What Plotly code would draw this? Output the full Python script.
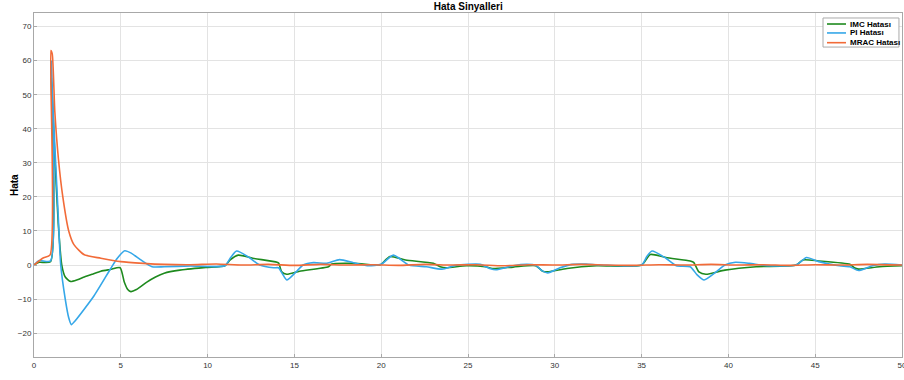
import plotly.graph_objects as go

# IMC Hatası (green)
t_imc = [0, 0.3, 0.95, 1.0, 1.05, 1.2, 1.4, 1.6, 1.8, 2.1, 2.5, 2.9, 3.4, 3.85, 4.4, 4.96, 5.2, 5.4, 5.58, 5.9, 6.5, 7.0, 7.5, 8.4, 9.9, 11.0, 11.3, 11.77, 12.6, 14.0, 14.1, 14.27, 14.56, 15.3, 16.96, 17.15, 18.4, 19.9, 20.0, 20.5, 21.4, 23.0, 23.4, 23.75, 24.9, 26.0, 26.4, 27.6, 28.9, 29.3, 29.6, 30.7, 32.4, 35.0, 35.5, 36.4, 37.8, 38.0, 38.3, 38.7, 39.8, 41.6, 43.9, 44.3, 45.2, 47.0, 47.25, 47.5, 48.7, 50]
y_imc = [0, 0.8, 1.0, 55, 50, 32, 12, 0, -3.5, -4.8, -4.3, -3.5, -2.6, -1.8, -1.3, -0.8, -5, -7.2, -7.8, -7.2, -5, -3.5, -2.4, -1.5, -0.7, -0.2, 1.5, 2.9, 2.0, 0.8, 0.5, -2, -2.7, -1.8, -0.5, 0.3, 0.5, 0, 0.2, 2.5, 1.5, 0.5, -0.5, -0.8, -0.2, -0.5, -1.0, -0.6, -0.2, -1.8, -2.0, -1.0, -0.2, 0, 3.1, 2.2, 1.2, 0.8, -2, -2.7, -1.5, -0.5, 0, 1.5, 1.2, 0.2, -0.8, -1.2, -0.5, -0.2]

# PI Hatası (blue)
t_pi = [0, 0.3, 0.95, 1.0, 1.05, 1.2, 1.4, 1.54, 1.8, 2.0, 2.15, 2.35, 3.46, 4.42, 4.8, 5.23, 5.6, 6.15, 6.8, 7.5, 9.0, 11.0, 11.3, 11.67, 12.4, 13.0, 13.8, 14.08, 14.3, 14.56, 15.1, 15.5, 16.1, 16.87, 17.6, 18.4, 19.2, 20.0, 20.7, 21.6, 22.6, 23.5, 24.3, 25.7, 26.25, 26.6, 27.6, 28.4, 28.9, 29.3, 29.6, 30.3, 31.0, 31.8, 32.6, 35.0, 35.3, 35.6, 36.4, 37.0, 37.8, 38.2, 38.6, 39.3, 39.8, 40.4, 41.2, 42.2, 43.9, 44.5, 45.2, 46.4, 47.0, 47.5, 48.3, 49.0, 50]
y_pi = [0, 1.3, 1.2, 60, 52, 35, 14, 0, -10, -15.5, -17.5, -16.5, -9, -1, 2, 4.2, 3.5, 1.5, -0.5, -0.5, -0.3, -0.2, 2.0, 4.1, 2.2, 0, -0.8, -0.8, -2.5, -4.4, -2, 0, 0.7, 0.5, 1.6, 0.7, -0.2, 0.2, 2.9, 0, -0.5, -1.2, -0.1, 0.2, -1.0, -1.4, -0.2, 0.2, -0.1, -1.8, -2.3, -0.8, 0.2, 0.3, 0, 0, 2.5, 4.1, 2.0, -0.2, -0.5, -2.9, -4.4, -2.0, 0, 0.8, 0.5, -0.2, 0, 2.2, 1.0, -0.2, -0.5, -1.6, -0.2, 0.3, 0]

# MRAC Hatası (orange)
t_mrac = [0, 0.5, 0.93, 0.97, 1.05, 1.2, 1.41, 1.66, 2.0, 2.3, 2.9, 3.85, 5.0, 6.3, 7.5, 9, 10.5, 12, 13.5, 15, 16.5, 18, 19.5, 21, 22.5, 24, 25.5, 27, 28.5, 30, 31.5, 33, 34.5, 36, 37.5, 39, 40.5, 42, 43.5, 45, 46.5, 48, 50]
y_mrac = [0, 2, 3, 63, 62, 45, 31, 20, 10, 6, 3, 2, 1, 0.5, 0.2, 0.1, 0.3, 0, 0.2, -0.1, 0.2, 0, 0.1, -0.1, 0.2, 0, 0.1, -0.2, 0.1, 0, 0.2, 0, -0.1, 0.1, 0, 0.2, 0, 0.1, -0.1, 0.1, 0, 0.2, 0]

series_names = ["IMC Hatası", "PI Hatası", "MRAC Hatası"]
series_colors = ["#1E8A1E", "#35A7E8", "#F26B38"]

x_ticks = [0, 5, 10, 15, 20, 25, 30, 35, 40, 45, 50]
y_ticks = [-20, -10, 0, 10, 20, 30, 40, 50, 60, 70]

FONT = "Liberation Sans, Arial, sans-serif"

fig = go.Figure()
for tx, ty, nm, col in zip([t_imc, t_pi, t_mrac], [y_imc, y_pi, y_mrac], series_names, series_colors):
    fig.add_trace(go.Scatter(x=tx, y=ty, mode="lines", name=nm, showlegend=False,
                             line=dict(color=col, width=1.6, shape="spline", smoothing=0.6)))

axis_common = dict(showgrid=True, gridcolor="#E3E3E3", gridwidth=1,
                   showline=True, linecolor="#A8A8A8", linewidth=1, mirror=True,
                   zeroline=False, ticks="inside", ticklen=3, tickcolor="#A8A8A8",
                   ticklabeloverflow="allow", automargin=False,
                   tickfont=dict(family=FONT, size=8, color="#333333"))

# compact legend drawn in paper coordinates
shapes = [dict(type="rect", xref="paper", yref="paper", x0=0.909, x1=0.9965, y0=0.901, y1=0.9855,
               line=dict(color="#AAAAAA", width=1), fillcolor="white", layer="above")]
annotations = []
leg_y = [0.968, 0.942, 0.9137]
for nm, col, ly in zip(series_names, series_colors, leg_y):
    shapes.append(dict(type="line", xref="paper", yref="paper", x0=0.9136, x1=0.9355, y0=ly, y1=ly,
                       line=dict(color=col, width=1.6), layer="above"))
    annotations.append(dict(xref="paper", yref="paper", x=0.9375, y=ly, xanchor="left", yanchor="middle",
                            text="<b>" + nm + "</b>", showarrow=False,
                            font=dict(family=FONT, size=8, color="#000000")))
annotations.append(dict(xref="paper", yref="paper", x=-0.023, y=0.5, xanchor="center", yanchor="middle",
                        text="<b>Hata</b>", textangle=-90, showarrow=False,
                        font=dict(family=FONT, size=10, color="#000000")))

fig.update_layout(
    width=904, height=380,
    margin=dict(l=34, r=2, t=13, b=23, autoexpand=False),
    paper_bgcolor="white", plot_bgcolor="white",
    title=dict(text="<b>Hata Sinyalleri</b>", x=0.518, xanchor="center", y=0.982, yanchor="middle",
               font=dict(family=FONT, size=10, color="#000000")),
    xaxis=dict(range=[0, 50], tickvals=x_ticks, **axis_common),
    yaxis=dict(range=[-27, 74], tickvals=y_ticks, **axis_common),
    shapes=shapes,
    annotations=annotations,
    showlegend=False,
)

fig.write_html("out.html")
